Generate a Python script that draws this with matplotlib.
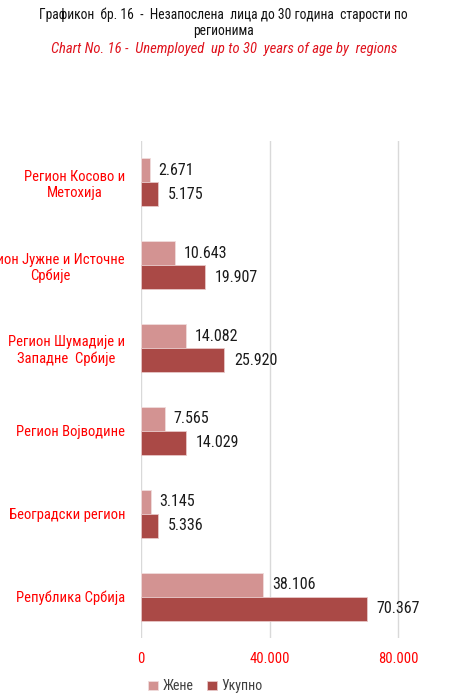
import matplotlib
matplotlib.use('Agg')
import matplotlib.pyplot as plt
from matplotlib.ticker import FuncFormatter

plt.rcParams['font.family'] = ['Roboto Condensed', 'DejaVu Sans']

# data (top to bottom as in the chart)
regions = ['Регион Косово и\nМетохија',
           'Регион Јужне и Источне\nСрбије',
           'Регион Шумадије и\nЗападне  Србије',
           'Регион Војводине',
           'Београдски регион',
           'Република Србија']
zene = [2671, 10643, 14082, 7565, 3145, 38106]
ukupno = [5175, 19907, 25920, 14029, 5336, 70367]
series_names = ['Жене', 'Укупно']

c_zene = '#D39392'
c_uk = '#AA4946'

fig = plt.figure(figsize=(4.54, 6.96), dpi=100)
ax = fig.add_axes([141/454, 58/696, 1 - 141/454, 497/696])

n = len(regions)
pos = list(range(n))
h = 0.29
yz = [p - h/2 for p in pos]
yu = [p + h/2 for p in pos]
ax.barh(yz, zene, height=h, color=c_zene, edgecolor='#F0DCDC', linewidth=0.6, label=series_names[0], zorder=3)
ax.barh(yu, ukupno, height=h, color=c_uk, edgecolor='#E8C8C8', linewidth=0.6, label=series_names[1], zorder=3)

def fmt(v):
    return '{:,}'.format(int(v)).replace(',', '.')

for y, v in zip(yz, zene):
    ax.annotate(fmt(v), (v, y), xytext=(6, 0), textcoords='offset points',
                va='center', ha='left', fontsize=11.5, color='#1a1a1a')
for y, v in zip(yu, ukupno):
    ax.annotate(fmt(v), (v, y), xytext=(7, 0), textcoords='offset points',
                va='center', ha='left', fontsize=11.5, color='#1a1a1a')

ax.set_ylim(n - 0.5, -0.5)
ax.set_xlim(0, 97400)
ax.set_yticks(pos)
ax.set_yticklabels(regions, color='#FF0000', fontsize=10.5, multialignment='center')
ax.set_xticks([0, 40000, 80000])
ax.xaxis.set_major_formatter(FuncFormatter(lambda v, p: fmt(v)))
ax.tick_params(axis='x', colors='#FF0000', labelsize=10.5, length=0, pad=10)
ax.tick_params(axis='y', length=0, pad=11.5)
ax.grid(axis='x', color='#D9D9D9', linewidth=1, zorder=0)
for s in ax.spines.values():
    s.set_visible(False)

fig.text(0.492, 1 - 15/696, 'Графикон  бр. 16  -  Незапослена  лица до 30 година  старости по',
         ha='center', va='center', fontsize=9.8, color='#111111')
fig.text(0.492, 1 - 31/696, 'регионима',
         ha='center', va='center', fontsize=9.8, color='#111111')
fig.text(0.494, 1 - 49/696, 'Chart No. 16 -  Unemployed  up to 30  years of age by  regions',
         ha='center', va='center', fontsize=10.5, color='#E0141E', style='italic')

fig.legend(loc='center', bbox_to_anchor=(0.452, 0.014), ncol=2, frameon=False,
           fontsize=10, handlelength=0.7, handleheight=0.7, handletextpad=0.3,
           columnspacing=1.0, labelcolor='#404040', borderpad=0)

fig.savefig('out.png', dpi=100)
